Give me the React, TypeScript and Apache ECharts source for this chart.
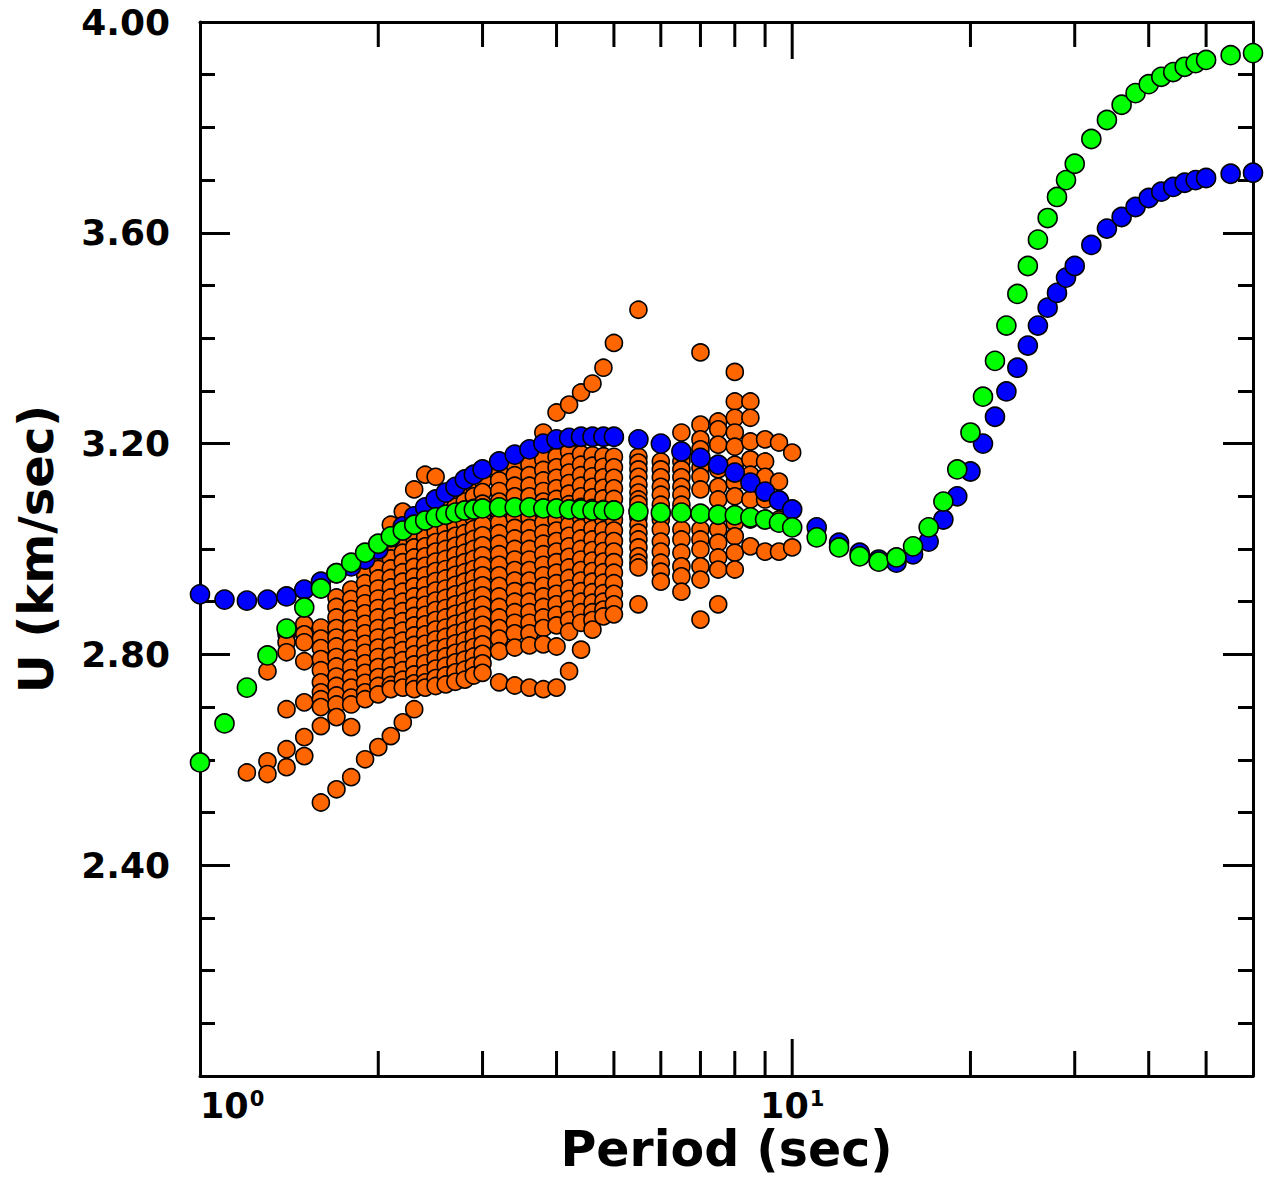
import React, { useEffect, useRef } from "react";
import * as echarts from "echarts";

// Periods (sec) shared by the blue and green curves
const periods = [
  1.0, 1.1, 1.2, 1.3, 1.4, 1.5, 1.6, 1.7, 1.8, 1.9,
  2.0, 2.1, 2.2, 2.3, 2.4, 2.5, 2.6, 2.7, 2.8, 2.9,
  3.0, 3.2, 3.4, 3.6, 3.8, 4.0, 4.2, 4.4, 4.6, 4.8,
  5.0, 5.5, 6.0, 6.5, 7.0, 7.5, 8.0, 8.5, 9.0, 9.5,
  10, 11, 12, 13, 14, 15, 16, 17, 18, 19,
  20, 21, 22, 23, 24, 25, 26, 27, 28, 29,
  30, 32, 34, 36, 38, 40, 42, 44, 46, 48,
  50, 55, 60,
];

const blueU = [
  2.914, 2.904, 2.902, 2.904, 2.910, 2.923, 2.938, 2.954, 2.967, 2.980,
  2.999, 3.022, 3.043, 3.062, 3.079, 3.094, 3.107, 3.118, 3.132, 3.141,
  3.151, 3.166, 3.179, 3.189, 3.200, 3.208, 3.211, 3.213, 3.213, 3.213,
  3.213, 3.208, 3.200, 3.185, 3.173, 3.160, 3.145, 3.126, 3.109, 3.092,
  3.075, 3.041, 3.012, 2.993, 2.980, 2.974, 2.990, 3.014, 3.056, 3.100,
  3.147, 3.200, 3.251, 3.299, 3.344, 3.386, 3.424, 3.458, 3.486, 3.515,
  3.537, 3.577, 3.608, 3.630, 3.649, 3.666, 3.678, 3.687, 3.695, 3.700,
  3.704, 3.712, 3.714,
];

const greenU = [
  2.595, 2.669, 2.737, 2.798, 2.849, 2.889, 2.925, 2.954, 2.974, 2.993,
  3.010, 3.024, 3.035, 3.046, 3.054, 3.060, 3.065, 3.069, 3.073, 3.075,
  3.077, 3.079, 3.079, 3.079, 3.077, 3.077, 3.075, 3.075, 3.073, 3.073,
  3.073, 3.071, 3.069, 3.069, 3.067, 3.065, 3.064, 3.060, 3.056, 3.050,
  3.041, 3.022, 3.003, 2.986, 2.976, 2.984, 3.005, 3.041, 3.090, 3.151,
  3.221, 3.289, 3.357, 3.424, 3.484, 3.537, 3.587, 3.628, 3.668, 3.700,
  3.731, 3.778, 3.814, 3.843, 3.865, 3.882, 3.896, 3.905, 3.915, 3.922,
  3.928, 3.937, 3.941,
];

// Orange: group velocities of many models, one column per period
const orangePeriods = [
  1.2, 1.3, 1.4, 1.5, 1.6, 1.7, 1.8, 1.9,
  2.0, 2.1, 2.2, 2.3, 2.4, 2.5, 2.6, 2.7, 2.8, 2.9,
  3.0, 3.2, 3.4, 3.6, 3.8, 4.0, 4.2, 4.4, 4.6, 4.8,
  5.0, 5.5, 6.0, 6.5, 7.0, 7.5, 8.0, 8.5, 9.0, 9.5, 10,
];

const orangeU = [
  [2.576],
  [2.768, 2.597, 2.573],
  [2.838, 2.823, 2.804, 2.696, 2.620, 2.586],
  [2.857, 2.838, 2.823, 2.787, 2.709, 2.643, 2.607],
  [2.851, 2.830, 2.812, 2.791, 2.770, 2.747, 2.728, 2.715, 2.700, 2.664, 2.519],
  [2.908, 2.890, 2.870, 2.850, 2.832, 2.815, 2.795, 2.777, 2.758, 2.740, 2.722, 2.705, 2.681, 2.544],
  [2.923, 2.905, 2.886, 2.868, 2.850, 2.830, 2.812, 2.792, 2.775, 2.755, 2.737, 2.718, 2.705, 2.662, 2.567],
  [2.952, 2.935, 2.915, 2.897, 2.878, 2.858, 2.840, 2.820, 2.803, 2.783, 2.765, 2.746, 2.728, 2.715, 2.601],
  [2.980, 2.962, 2.944, 2.925, 2.906, 2.888, 2.870, 2.850, 2.832, 2.813, 2.795, 2.776, 2.757, 2.740, 2.724, 2.624],
  [3.046, 3.000, 2.982, 2.963, 2.945, 2.927, 2.908, 2.890, 2.871, 2.853, 2.834, 2.816, 2.797, 2.778, 2.760, 2.742, 2.734, 2.645],
  [3.071, 3.030, 3.012, 2.993, 2.975, 2.956, 2.938, 2.919, 2.900, 2.882, 2.863, 2.845, 2.826, 2.808, 2.789, 2.770, 2.752, 2.737, 2.671],
  [3.113, 3.040, 3.021, 3.003, 2.984, 2.966, 2.947, 2.929, 2.910, 2.892, 2.873, 2.855, 2.836, 2.818, 2.800, 2.781, 2.762, 2.745, 2.734, 2.696],
  [3.141, 3.060, 3.042, 3.023, 3.005, 2.986, 2.968, 2.950, 2.931, 2.912, 2.894, 2.875, 2.857, 2.838, 2.820, 2.801, 2.783, 2.764, 2.747, 2.737],
  [3.137, 3.070, 3.050, 3.032, 3.013, 2.995, 2.976, 2.958, 2.939, 2.921, 2.902, 2.884, 2.865, 2.847, 2.828, 2.810, 2.791, 2.773, 2.755, 2.740],
  [3.090, 3.074, 3.056, 3.037, 3.018, 3.000, 2.981, 2.962, 2.944, 2.925, 2.907, 2.888, 2.870, 2.851, 2.833, 2.814, 2.796, 2.778, 2.760, 2.743],
  [3.100, 3.080, 3.062, 3.043, 3.025, 3.006, 2.988, 2.969, 2.951, 2.932, 2.914, 2.895, 2.877, 2.858, 2.840, 2.821, 2.803, 2.785, 2.766, 2.748],
  [3.112, 3.090, 3.070, 3.050, 3.030, 3.012, 2.993, 2.975, 2.956, 2.938, 2.919, 2.900, 2.882, 2.863, 2.845, 2.826, 2.808, 2.790, 2.771, 2.752],
  [3.120, 3.100, 3.078, 3.058, 3.038, 3.019, 3.000, 2.981, 2.962, 2.944, 2.925, 2.906, 2.888, 2.870, 2.851, 2.832, 2.814, 2.796, 2.778, 2.760],
  [3.130, 3.108, 3.086, 3.066, 3.046, 3.026, 3.007, 2.988, 2.969, 2.950, 2.931, 2.912, 2.894, 2.875, 2.856, 2.838, 2.819, 2.801, 2.783, 2.765],
  [3.150, 3.130, 3.110, 3.090, 3.070, 3.050, 3.030, 3.010, 2.990, 2.970, 2.950, 2.930, 2.910, 2.890, 2.870, 2.850, 2.830, 2.806, 2.747],
  [3.160, 3.140, 3.120, 3.100, 3.080, 3.060, 3.040, 3.020, 3.000, 2.980, 2.960, 2.940, 2.920, 2.900, 2.880, 2.860, 2.840, 2.813, 2.741],
  [3.180, 3.160, 3.140, 3.120, 3.100, 3.080, 3.060, 3.040, 3.020, 3.000, 2.980, 2.960, 2.940, 2.920, 2.900, 2.880, 2.860, 2.840, 2.817, 2.737],
  [3.221, 3.190, 3.170, 3.150, 3.130, 3.110, 3.090, 3.070, 3.050, 3.030, 3.010, 2.990, 2.970, 2.950, 2.930, 2.910, 2.890, 2.870, 2.850, 2.819, 2.734],
  [3.259, 3.195, 3.175, 3.155, 3.135, 3.115, 3.095, 3.075, 3.055, 3.035, 3.015, 2.995, 2.975, 2.955, 2.935, 2.915, 2.895, 2.875, 2.855, 2.815, 2.737],
  [3.274, 3.185, 3.165, 3.145, 3.125, 3.105, 3.085, 3.065, 3.045, 3.025, 3.005, 2.985, 2.965, 2.945, 2.925, 2.905, 2.885, 2.865, 2.843, 2.768],
  [3.297, 3.180, 3.160, 3.140, 3.120, 3.100, 3.080, 3.060, 3.040, 3.020, 3.000, 2.980, 2.960, 2.940, 2.920, 2.900, 2.880, 2.860, 2.809],
  [3.314, 3.178, 3.158, 3.138, 3.118, 3.098, 3.078, 3.058, 3.038, 3.018, 2.998, 2.978, 2.958, 2.938, 2.918, 2.898, 2.880, 2.865, 2.847],
  [3.344, 3.176, 3.156, 3.136, 3.116, 3.096, 3.076, 3.056, 3.036, 3.016, 2.996, 2.976, 2.956, 2.936, 2.916, 2.900, 2.885, 2.872],
  [3.391, 3.175, 3.155, 3.135, 3.115, 3.095, 3.075, 3.055, 3.035, 3.015, 2.995, 2.975, 2.955, 2.935, 2.915, 2.895, 2.876],
  [3.454, 3.175, 3.164, 3.151, 3.137, 3.122, 3.107, 3.094, 3.085, 3.060, 3.046, 3.031, 3.018, 3.003, 2.986, 2.974, 2.965, 2.895],
  [3.166, 3.151, 3.136, 3.118, 3.103, 3.084, 3.056, 3.037, 3.014, 2.995, 2.974, 2.957, 2.938],
  [3.221, 3.166, 3.151, 3.136, 3.118, 3.103, 3.084, 3.037, 3.018, 2.993, 2.967, 2.948, 2.919],
  [3.373, 3.236, 3.208, 3.189, 3.154, 3.137, 3.113, 3.037, 3.018, 2.999, 2.967, 2.942, 2.866],
  [3.242, 3.227, 3.198, 3.151, 3.118, 3.094, 3.037, 3.012, 2.984, 2.961, 2.895],
  [3.336, 3.280, 3.249, 3.221, 3.194, 3.160, 3.126, 3.100, 3.050, 3.024, 2.993, 2.961],
  [3.280, 3.249, 3.204, 3.170, 3.141, 3.094, 3.056, 3.005],
  [3.208, 3.166, 3.137, 3.094, 3.056, 2.995],
  [3.202, 3.128, 3.094, 3.056, 2.995],
  [3.183, 3.003],
];

// Axis settings
const xMin = 1;
const xMax = 60;
const yMin = 2.0;
const yMax = 4.0;
const yLabelStep = 0.4;
const xTickValues = [2, 3, 4, 5, 6, 7, 8, 9, 10, 20, 30, 40, 50];
const xDecadeTicks = [10];

const FONT = "DejaVu Sans";

export default function App() {
  const ref = useRef<HTMLDivElement>(null);

  useEffect(() => {
    if (!ref.current) return;
    const chart = echarts.init(ref.current, null, { renderer: "svg" });

    const blueData = periods.map((p, i) => [p, blueU[i]]);
    const greenData = periods.map((p, i) => [p, greenU[i]]);
    const orangeData: number[][] = [];
    orangePeriods.forEach((p, i) => {
      orangeU[i].forEach((u) => orangeData.push([p, u]));
    });
    const tickData = xTickValues.map((v) => [v, 3, xDecadeTicks.includes(v) ? 37 : 25]);

    const black = "#000";

    chart.setOption({
      animation: false,
      backgroundColor: "#fff",
      grid: {
        left: 200,
        top: 22,
        right: 17,
        bottom: 105,
        containLabel: false,
        outerBoundsMode: "none",
      },
      xAxis: [
        {
          type: "log",
          logBase: 10,
          min: xMin,
          max: xMax,
          position: "bottom",
          axisLine: { show: true, onZero: false, lineStyle: { color: black, width: 3 } },
          axisTick: { show: false },
          minorTick: { show: false },
          splitLine: { show: false },
          axisLabel: {
            show: true,
            margin: 12,
            alignMinLabel: "left",
            showMaxLabel: false,
            formatter: (v: number) => {
              if (Math.abs(v - 1) < 1e-6) return "{b|10}{s|0}";
              if (Math.abs(v - 10) < 1e-6) return "{b|10}{s|1}";
              return "";
            },
            rich: {
              b: { fontFamily: FONT, fontSize: 35, fontWeight: "bold", color: black },
              s: { fontFamily: FONT, fontSize: 21, fontWeight: "bold", color: black, verticalAlign: "top", padding: [0, 0, 15, 1] },
            },
          },
          name: "Period (sec)",
          nameLocation: "middle",
          nameGap: 46,
          nameMoveOverlap: false,
          nameTextStyle: { fontFamily: FONT, fontSize: 49, fontWeight: "bold", color: black, lineHeight: 54, verticalAlign: "top" },
        },
        {
          type: "log",
          logBase: 10,
          min: xMin,
          max: xMax,
          position: "top",
          axisLine: { show: true, onZero: false, lineStyle: { color: black, width: 3 } },
          axisTick: { show: false },
          axisLabel: { show: false },
          splitLine: { show: false },
        },
      ],
      yAxis: [
        {
          type: "value",
          min: yMin,
          max: yMax,
          interval: yLabelStep,
          position: "left",
          axisLine: { show: true, onZero: false, lineStyle: { color: black, width: 3 } },
          axisTick: { show: true, inside: true, length: 30, lineStyle: { color: black, width: 3 } },
          minorTick: { show: true, splitNumber: 4, length: 15, lineStyle: { color: black, width: 3 } },
          splitLine: { show: false },
          minorSplitLine: { show: false },
          axisLabel: {
            show: true,
            margin: 30,
            showMinLabel: false,
            formatter: (v: number) => v.toFixed(2),
            fontFamily: FONT,
            fontSize: 36,
            fontWeight: "bold",
            color: black,
          },
          name: "U (km/sec)",
          nameLocation: "middle",
          nameGap: 140,
          nameMoveOverlap: false,
          nameTextStyle: { fontFamily: FONT, fontSize: 48, fontWeight: "bold", color: black },
        },
        {
          type: "value",
          min: yMin,
          max: yMax,
          interval: yLabelStep,
          position: "right",
          axisLine: { show: true, onZero: false, lineStyle: { color: black, width: 3 } },
          axisTick: { show: true, inside: true, length: 30, lineStyle: { color: black, width: 3 } },
          minorTick: { show: true, splitNumber: 4, length: 15, lineStyle: { color: black, width: 3 } },
          splitLine: { show: false },
          minorSplitLine: { show: false },
          axisLabel: { show: false },
        },
      ],
      series: [
        {
          type: "scatter",
          name: "models",
          data: orangeData,
          symbol: "circle",
          symbolSize: 17,
          clip: false,
          itemStyle: { color: "#ff6600", borderColor: black, borderWidth: 1.6, opacity: 1 },
          z: 2,
        },
        {
          type: "scatter",
          name: "blue",
          data: blueData,
          symbol: "circle",
          symbolSize: 19,
          clip: false,
          itemStyle: { color: "#0000ff", borderColor: black, borderWidth: 1.6, opacity: 1 },
          z: 3,
        },
        {
          type: "scatter",
          name: "green",
          data: greenData,
          symbol: "circle",
          symbolSize: 19,
          clip: false,
          itemStyle: { color: "#00ff00", borderColor: black, borderWidth: 1.6, opacity: 1 },
          z: 4,
        },
        {
          type: "custom",
          name: "xticks",
          data: tickData,
          encode: { x: 0, y: 1 },
          clip: false,
          silent: true,
          z: 5,
          renderItem: (params: any, api: any) => {
            const v = api.value(0);
            const L = api.value(2);
            const b = api.coord([v, yMin]);
            const t = api.coord([v, yMax]);
            return {
              type: "group",
              children: [
                { type: "line", shape: { x1: b[0], y1: b[1], x2: b[0], y2: b[1] - L }, style: { stroke: black, lineWidth: 3 } },
                { type: "line", shape: { x1: t[0], y1: t[1], x2: t[0], y2: t[1] + L }, style: { stroke: black, lineWidth: 3 } },
              ],
            };
          },
        },
      ],
    });

    return () => chart.dispose();
  }, []);

  return (
    <div
      ref={ref}
      style={{ position: "fixed", left: 0, top: 0, width: 1270, height: 1181, background: "#fff" }}
    />
  );
}
